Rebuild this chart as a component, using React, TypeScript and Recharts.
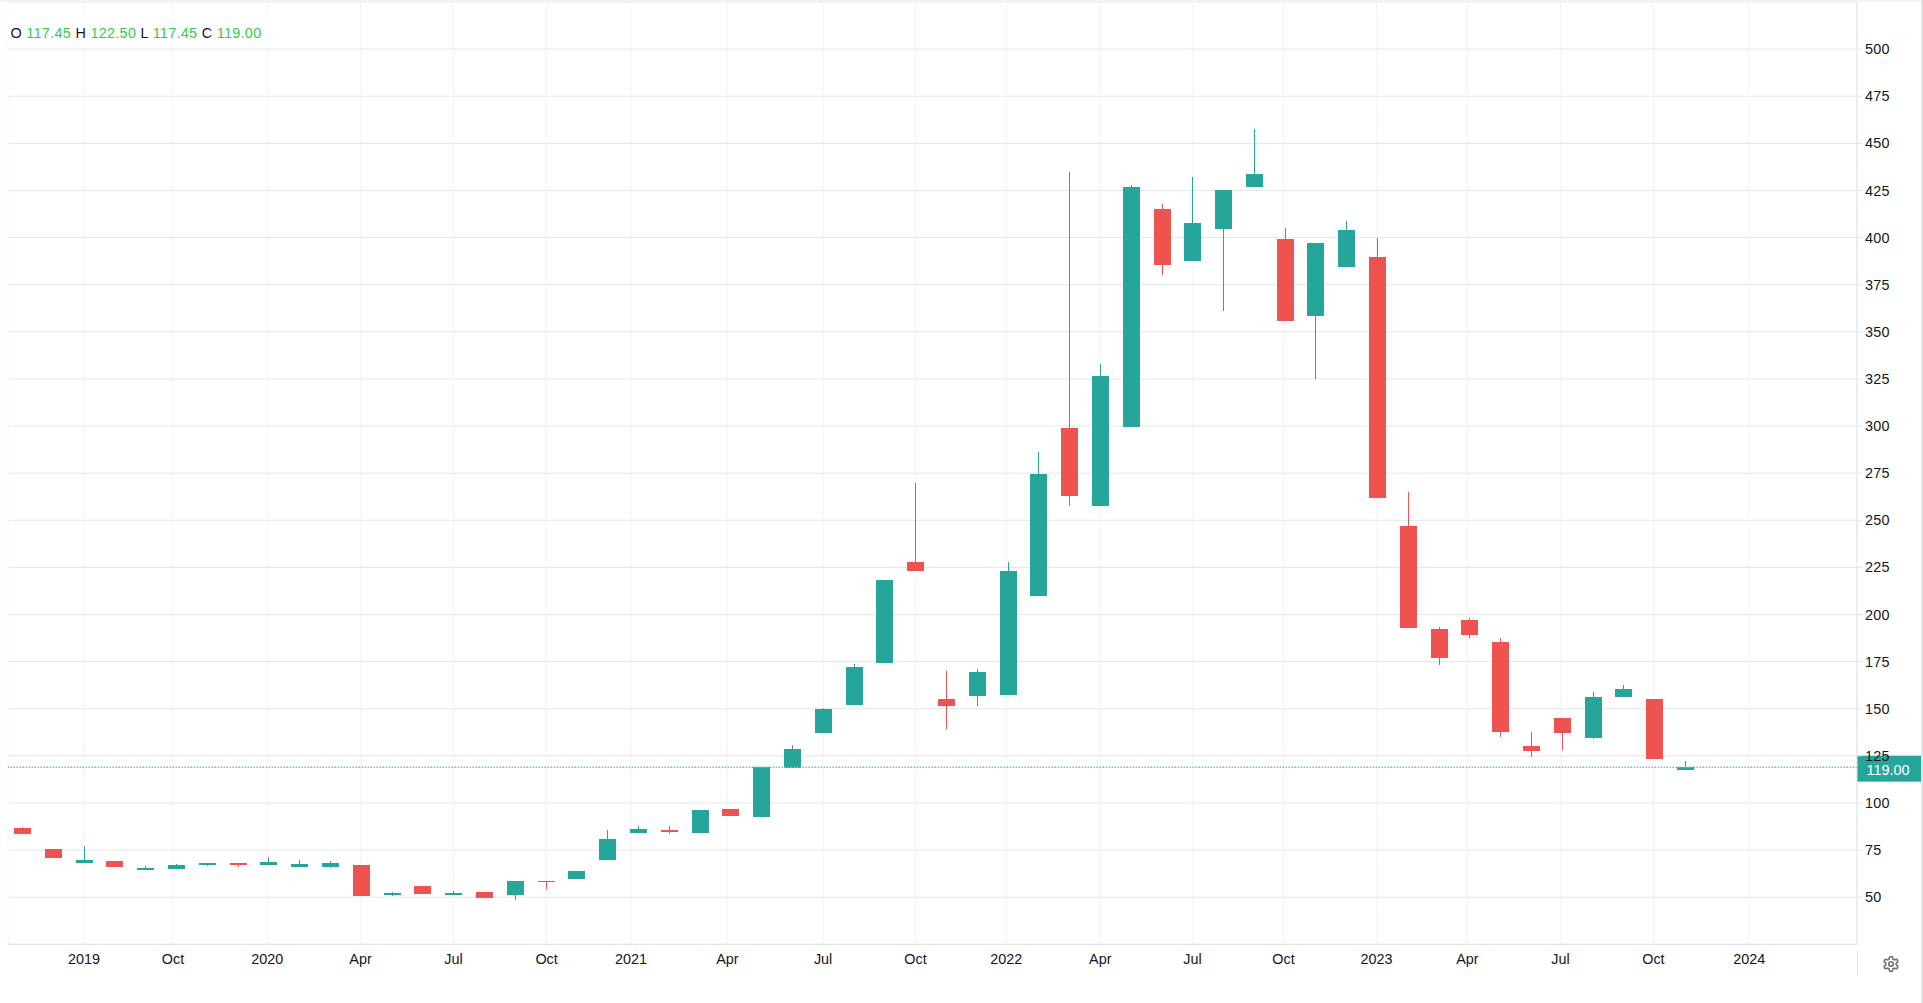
import { Bar, CartesianGrid, ComposedChart, ReferenceLine, XAxis, YAxis } from "recharts";

const opens = [86.9, 75.7, 67.9, 69.3, 64.5, 65.2, 67.2, 68.3, 67.2, 66.1, 66.1, 67.2, 51.2, 56.0, 51.2, 52.8, 51.2, 58.7, 59.8, 69.9, 84.2, 85.4, 83.9, 96.6, 92.4, 118.4, 137, 151.9, 174.2, 227.9, 155.1, 156.7, 157.2, 209.8, 298.7, 257.8, 299.4, 415.1, 387.5, 404.5, 426.8, 399.2, 358.2, 384.3, 389.6, 247.1, 192.4, 197, 185.4, 130.1, 145, 134.6, 156, 155.2, 117.45];
const highs = [87.4, 75.7, 77.3, 69.3, 66.7, 67.7, 68.3, 68.3, 71.5, 69.9, 69.3, 67.2, 52.8, 56.0, 53.4, 52.8, 58.7, 58.7, 64, 85.8, 87.9, 87.6, 96.1, 96.6, 119.1, 130.6, 150.3, 173.7, 218.3, 269.9, 170, 171, 227.9, 286.3, 434.8, 332.7, 427.9, 417.8, 432.1, 425.2, 457.6, 405, 397, 408.7, 399.7, 265, 193.4, 198.2, 187.5, 137.6, 145, 158.8, 162.7, 155.2, 122.5];
const lows = [83.3, 70.6, 67.9, 65.8, 64.5, 65.2, 66.7, 66.1, 67.2, 66.1, 65.6, 50.7, 50.7, 51.8, 51.2, 49.6, 48.6, 54.4, 59.8, 69.9, 84.2, 83.3, 83.9, 92.9, 92.4, 118.4, 137, 151.9, 174.2, 223.1, 139.1, 151.4, 157.2, 209.8, 257.8, 257.8, 299.4, 380, 387.5, 360.9, 426.8, 355.6, 324.8, 384.3, 261.8, 192.6, 173.2, 187.3, 135, 124.4, 128, 133.8, 156, 123.4, 117.45];
const closes = [83.3, 70.6, 69.9, 65.8, 65.6, 67.2, 68.3, 67.2, 68.8, 67.7, 68.3, 50.7, 52.3, 51.8, 52.3, 49.6, 58.7, 58.2, 64, 81, 86.3, 84.4, 96.1, 92.9, 119.1, 128.5, 149.8, 172.1, 218.3, 223.1, 151.4, 169.4, 223.1, 274.5, 263.1, 326.4, 426.8, 385.3, 407.7, 425.2, 433.7, 355.6, 397, 403.9, 261.8, 192.6, 177.1, 189.3, 137.9, 127.7, 137.2, 156.2, 160.4, 123.4, 119];

const xTickAt = [2, 4.89, 7.95, 10.98, 14, 17.02, 19.76, 22.89, 26, 29, 31.95, 35, 37.99, 40.95, 43.97, 46.92, 49.94, 52.96, 56.07];
const xTickLabels = ["2019", "Oct", "2020", "Apr", "Jul", "Oct", "2021", "Apr", "Jul", "Oct", "2022", "Apr", "Jul", "Oct", "2023", "Apr", "Jul", "Oct", "2024"];
const yTicks = [50, 75, 100, 125, 150, 175, 200, 225, 250, 275, 300, 325, 350, 375, 400, 425, 450, 475, 500];
const lastPrice = 119;

const UP = "#26a69a";
const DOWN = "#ef5350";
const FONT = "'Liberation Sans', Arial, sans-serif";

const data = opens.map((open, i) => ({
  i,
  open,
  high: highs[i],
  low: lows[i],
  close: closes[i],
  range: [lows[i], highs[i]],
}));

const Candle = (props: any) => {
  const { x, y, width, height, payload } = props;
  const { open, high, low, close } = payload;
  const color = close >= open ? UP : DOWN;
  const perUnit = height / (high - low);
  const top = y + (high - Math.max(open, close)) * perUnit;
  const bodyHeight = Math.max(Math.abs(open - close) * perUnit, 1);
  const mid = Math.round(x + width / 2 - 0.5);
  return (
    <g shapeRendering="crispEdges">
      <rect x={mid} y={y} width={1} height={height} fill={color} />
      <rect x={mid - 8} y={top} width={width} height={bodyHeight} fill={color} />
    </g>
  );
};

const PriceTag = (props: any) => {
  const y = props.viewBox.y;
  return (
    <g>
      <rect x={1857} y={y - 11.5} width={64} height={26} fill={UP} />
      <text x={1888} y={y + 8} fill="#fff" fontSize={14.4} fontFamily={FONT} textAnchor="middle">
        {lastPrice.toFixed(2)}
      </text>
    </g>
  );
};

const Legend = () => {
  const green = "#2fce3f";
  const items = [
    ["O", "117.45"],
    ["H", "122.50"],
    ["L", "117.45"],
    ["C", "119.00"],
  ];
  return (
    <div
      style={{
        position: "absolute",
        left: 8,
        top: 17,
        width: 261,
        height: 28,
        boxSizing: "border-box",
        paddingLeft: 2.5,
        paddingTop: 5.5,
        background: "#fff",
        fontFamily: FONT,
        fontSize: 14.4,
        letterSpacing: 0.3,
        lineHeight: "20px",
        color: "#131722",
        whiteSpace: "pre",
      }}
    >
      {items.map(([k, v], n) => (
        <span key={k}>
          {k} <span style={{ color: green }}>{v}</span>
          {n < items.length - 1 ? " " : ""}
        </span>
      ))}
    </div>
  );
};

const Gear = () => (
  <svg
    width={18}
    height={18}
    viewBox="0 0 24 24"
    fill="none"
    stroke="#6f7179"
    strokeWidth={2.2}
    style={{ position: "absolute", left: 1881.5, top: 954.5 }}
  >
    <path d="M12.22 2h-.44a2 2 0 0 0-2 2v.18a2 2 0 0 1-1 1.73l-.43.25a2 2 0 0 1-2 0l-.15-.08a2 2 0 0 0-2.73.73l-.22.38a2 2 0 0 0 .73 2.73l.15.1a2 2 0 0 1 1 1.72v.51a2 2 0 0 1-1 1.74l-.15.09a2 2 0 0 0-.73 2.73l.22.38a2 2 0 0 0 2.73.73l.15-.08a2 2 0 0 1 2 0l.43.25a2 2 0 0 1 1 1.73V20a2 2 0 0 0 2 2h.44a2 2 0 0 0 2-2v-.18a2 2 0 0 1 1-1.73l.43-.25a2 2 0 0 1 2 0l.15.08a2 2 0 0 0 2.73-.73l.22-.39a2 2 0 0 0-.73-2.73l-.15-.08a2 2 0 0 1-1-1.74v-.5a2 2 0 0 1 1-1.74l.15-.09a2 2 0 0 0 .73-2.73l-.22-.38a2 2 0 0 0-2.73-.73l-.15.08a2 2 0 0 1-2 0l-.43-.25a2 2 0 0 1-1-1.73V4a2 2 0 0 0-2-2z" />
    <circle cx={12} cy={12} r={3} />
  </svg>
);

export default function App() {
  return (
    <div style={{ position: "absolute", left: 0, top: 0, width: 1923, height: 1003, background: "#fff", overflow: "hidden" }}>
      <ComposedChart
        width={1923}
        height={1003}
        data={data}
        margin={{ top: 2, right: 0, bottom: 0, left: 8 }}
      >
        <CartesianGrid horizontal={false} stroke="#f0f3fa" strokeWidth={1} />
        <CartesianGrid vertical={false} stroke="#e6e6e6" strokeWidth={1} />
        <XAxis
          dataKey="i"
          type="number"
          domain={[-0.468, 59.57]}
          ticks={xTickAt}
          interval={0}
          height={58.7}
          stroke="#e3e3e3"
          tickLine={false}
          tickMargin={3.5}
          tick={{ fill: "#131722", fontSize: 14.4, fontFamily: FONT }}
          tickFormatter={(v: number) => xTickLabels[xTickAt.indexOf(v)]}
          allowDataOverflow
        />
        <YAxis
          orientation="right"
          type="number"
          domain={[25, 525]}
          ticks={yTicks}
          interval={0}
          width={66}
          stroke="#e3e3e3"
          tickSize={5}
          tickMargin={3}
          tick={{ fill: "#131722", fontSize: 14.4, fontFamily: FONT, textAnchor: "start", letterSpacing: 0.3 }}
          allowDataOverflow
        />
        <Bar dataKey="range" barSize={17} shape={<Candle />} isAnimationActive={false} />
        <ReferenceLine
          y={lastPrice}
          stroke="#5cc4ba"
          strokeWidth={1.5}
          strokeDasharray="1.5 1.5"
          label={<PriceTag />}
        />
      </ComposedChart>
      <Legend />
      <Gear />
      <div style={{ position: "absolute", left: 1857, top: 951, width: 1, height: 25, background: "#e3e3e3" }} />
      <div style={{ position: "absolute", left: 0, top: 0, width: 1923, height: 2, background: "#f3f3f3" }} />
      <div style={{ position: "absolute", left: 1921, top: 0, width: 2, height: 1003, background: "#e3e3e3" }} />
    </div>
  );
}
